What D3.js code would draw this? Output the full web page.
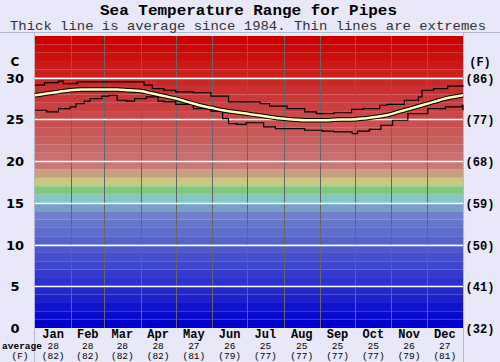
<!DOCTYPE html>
<html><head><meta charset="utf-8">
<script src="https://cdn.jsdelivr.net/npm/d3@7"></script>
<style>html,body{margin:0;padding:0;background:#e8e8f8;}svg{display:block;}</style>
</head><body>
<svg id="c" width="500" height="362"></svg>
<script>
const months = ["Jan","Feb","Mar","Apr","May","Jun","Jul","Aug","Sep","Oct","Nov","Dec"];
const monthDays = [31,28,31,30,31,30,31,31,30,31,30,31];
const avgC = [28,28,28,28,27,26,25,25,25,25,26,27];
const avgF = [82,82,82,82,81,79,77,77,77,77,79,81];
const yTicksC = [0,5,10,15,20,25,30];
const yTicksF = [32,41,50,59,68,77,86];

// day-of-year samples
const avgDays = [0,10,20,30,40,50,60,70,80,90,100,110,120,130,140,150,160,170,180,190,200,210,220,230,240,250,260,270,280,290,300,310,320,330,340,350,365];
const avgVals = [27.9,28.1,28.3,28.5,28.6,28.6,28.6,28.6,28.5,28.4,28.1,27.8,27.5,27.1,26.7,26.4,26.1,25.9,25.7,25.5,25.3,25.1,25.0,24.9,24.9,24.9,25.0,25.0,25.1,25.3,25.5,25.9,26.3,26.7,27.1,27.5,27.9];

const maxDays = [0,8,20,24,30,36,60,72,88,93,100,110,120,135,150,165,180,192,200,215,230,240,255,270,280,294,300,315,327,330,340,352,365];
const maxVals = [29.1,29.4,29.6,29.3,29.3,29.5,29.5,29.5,29.5,29.1,28.7,28.5,28.3,28.2,27.8,27.1,27.1,26.9,26.6,26.3,25.9,25.7,25.8,26.2,26.3,26.7,26.8,27.3,27.7,28.5,28.7,29.0,29.1];

const minDays = [0,10,15,20,30,35,42,47,57,63,70,78,85,95,105,110,120,135,150,160,165,172,180,195,205,215,230,245,255,270,270.5,275,285,295,305,318,335,350,364,365];
const minVals = [26.1,25.9,25.9,26.3,26.5,26.9,27.2,27.5,27.8,27.9,27.3,27.2,27.5,27.7,27.2,27.1,26.8,26.3,26.0,25.1,24.5,24.4,24.6,24.1,23.9,23.9,23.7,23.6,23.5,23.5,23.3,23.6,23.8,24.3,24.9,25.7,26.3,26.5,26.7,26.1];

const svg = d3.select("#c");
const L = 35, R = 463, T = 36, B = 328;
const x = d3.scaleLinear().domain([0,365]).range([L,R]);
const y = d3.scaleLinear().domain([0,35]).range([B,T]);

// frame
svg.append("line").attr("x1",0).attr("x2",500).attr("y1",32.5).attr("y2",32.5).attr("stroke","#b8b8cc");
svg.append("line").attr("x1",L-0.5).attr("x2",L-0.5).attr("y1",32).attr("y2",362).attr("stroke","#b8b8cc");
svg.append("line").attr("x1",R+0.5).attr("x2",R+0.5).attr("y1",32).attr("y2",362).attr("stroke","#b8b8cc");

// bands
const bands = d3.range(35);
const special = {14:"#78a0c8",15:"#80c8c8",16:"#80c880",17:"#c8c880",18:"#c8a080"};
function bandColor(i){
  if (special[i]) return special[i];
  if (i < 14) return d3.interpolateRgb("rgb(0,0,204)","rgb(112,128,204)")(i/13);
  return d3.interpolateRgb("rgb(200,120,120)","rgb(204,0,0)")((i-19)/15);
}
svg.append("g").selectAll("rect").data(bands).join("rect")
  .attr("x",L).attr("width",R-L)
  .attr("y",d=>y(d+1)).attr("height",d=>y(d)-y(d+1))
  .attr("fill",d=>bandColor(d));

// month separators
const cum = Array.from(d3.cumsum(monthDays));
svg.append("g").selectAll("line").data(cum.slice(0,11)).join("line")
  .attr("x1",d=>Math.round(x(d))+0.5).attr("x2",d=>Math.round(x(d))+0.5)
  .attr("y1",T).attr("y2",B).attr("stroke","#666").attr("stroke-width",1);

// horizontal grid
svg.append("g").selectAll("line").data(yTicksC.slice(1)).join("line")
  .attr("x1",L).attr("x2",R).attr("y1",d=>Math.round(y(d))+0.5).attr("y2",d=>Math.round(y(d))+0.5)
  .attr("stroke","#fff").attr("stroke-width",1.5);

// lines
const stepLine = d3.line().x(d=>x(d[0])).y(d=>y(d[1])).curve(d3.curveStepAfter);
const smooth = d3.line().x(d=>x(d[0])).y(d=>y(d[1])).curve(d3.curveMonotoneX);
svg.append("path").datum(d3.zip(maxDays,maxVals)).attr("d",stepLine).attr("fill","none").attr("stroke","#000").attr("stroke-width",1.2);
svg.append("path").datum(d3.zip(minDays,minVals)).attr("d",stepLine).attr("fill","none").attr("stroke","#000").attr("stroke-width",1.2);
svg.append("path").datum(d3.zip(avgDays,avgVals)).attr("d",smooth).attr("fill","none").attr("stroke","#000").attr("stroke-width",4.5);
svg.append("path").datum(d3.zip(avgDays,avgVals)).attr("d",smooth).attr("fill","none").attr("stroke","#ffffc0").attr("stroke-width",2.5);

// titles
svg.append("text").attr("x",248.5).attr("y",15).attr("text-anchor","middle")
  .attr("font-family","Liberation Mono, monospace").attr("font-weight","bold").attr("font-size",15)
  .attr("textLength",297).attr("lengthAdjust","spacingAndGlyphs")
  .attr("fill","#000").text("Sea Temperature Range for Pipes");
svg.append("text").attr("x",248).attr("y",30).attr("text-anchor","middle")
  .attr("font-family","Liberation Mono, monospace").attr("font-size",13)
  .attr("textLength",476).attr("lengthAdjust","spacingAndGlyphs")
  .attr("fill","#333").text("Thick line is average since 1984. Thin lines are extremes");

// left axis
svg.append("text").attr("x",15).attr("y",66).attr("text-anchor","middle")
  .attr("font-family","DejaVu Sans, sans-serif").attr("font-weight","bold").attr("font-size",12).text("C");
svg.append("g").selectAll("text").data(yTicksC).join("text")
  .attr("x",15).attr("y",d=>y(d)+5).attr("text-anchor","middle")
  .attr("font-family","DejaVu Sans, sans-serif").attr("font-weight","bold").attr("font-size",13)
  .text(d=>d);
// right axis
svg.append("text").attr("x",480).attr("y",66).attr("text-anchor","middle")
  .attr("font-family","Liberation Mono, monospace").attr("font-weight","bold").attr("font-size",12).text("(F)");
svg.append("g").selectAll("text").data(yTicksF).join("text")
  .attr("x",480).attr("y",(d,i)=>y(yTicksC[i])+5).attr("text-anchor","middle")
  .attr("font-family","Liberation Mono, monospace").attr("font-weight","bold").attr("font-size",12)
  .text(d=>"("+d+")");

// bottom labels
const starts = [0].concat(cum.slice(0,11));
const mid = starts.map((s,i)=>s+monthDays[i]/2);
svg.append("g").selectAll("text").data(months).join("text")
  .attr("x",(d,i)=>x(mid[i])).attr("y",337.5).attr("text-anchor","middle")
  .attr("font-family","Liberation Mono, monospace").attr("font-weight","bold").attr("font-size",12)
  .text(d=>d);
svg.append("g").selectAll("text").data(avgC).join("text")
  .attr("x",(d,i)=>x(mid[i])).attr("y",349).attr("text-anchor","middle")
  .attr("font-family","Liberation Mono, monospace").attr("font-size",9.5)
  .text(d=>d);
svg.append("g").selectAll("text").data(avgF).join("text")
  .attr("x",(d,i)=>x(mid[i])).attr("y",358.5).attr("text-anchor","middle")
  .attr("font-family","Liberation Mono, monospace").attr("font-size",9.5)
  .text(d=>"("+d+")");
svg.append("text").attr("x",22).attr("y",349).attr("text-anchor","middle")
  .attr("font-family","Liberation Mono, monospace").attr("font-weight","bold").attr("font-size",9.5).text("average");
svg.append("text").attr("x",20).attr("y",358.5).attr("text-anchor","middle")
  .attr("font-family","Liberation Mono, monospace").attr("font-size",9.5).text("(F)");
</script>
</body></html>
